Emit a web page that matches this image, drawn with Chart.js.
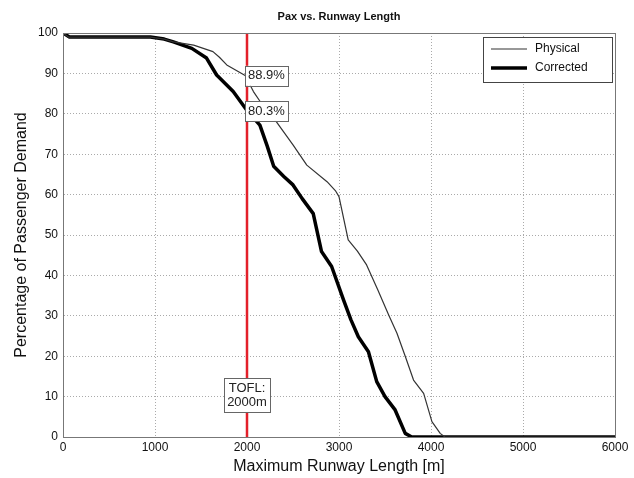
<!DOCTYPE html>
<html lang="en">
<head>
    <meta charset="UTF-8">
    <title>Pax vs. Runway Length</title>
    <style>
        body { margin: 0; padding: 0; background: #fff; }
        #wrap { width: 634px; height: 478px; }
    </style>
    <script src="https://cdn.jsdelivr.net/npm/chart.js"></script>
</head>
<body>
    <div id="wrap"><canvas id="paxChart" width="634" height="478"></canvas></div>

    <script>
        // runway length [m] and percentage of passenger demand
        const physicalX = [0, 60, 950, 1100, 1200, 1420, 1630, 1700, 1780, 1980, 2070, 2150, 2320, 2500, 2650, 2870, 2960, 3000, 3100, 3200, 3300, 3420, 3540, 3630, 3720, 3810, 3920, 4010, 4100, 4150, 6000];
        const physicalY = [100, 99, 99, 98.5, 97.8, 97, 95.4, 94, 92.1, 89.5, 85.5, 82.8, 78, 72.3, 67.3, 63.2, 61, 59.5, 48.8, 46, 42.6, 36.5, 30.2, 25.7, 20, 14.1, 10.8, 3.8, 0.9, 0, 0];
        const correctedX = [0, 70, 950, 1100, 1200, 1400, 1560, 1670, 1850, 2000, 2140, 2220, 2290, 2400, 2500, 2600, 2720, 2810, 2920, 3050, 3130, 3210, 3320, 3410, 3500, 3610, 3720, 3790, 6000];
        const correctedY = [100, 99, 99, 98.5, 97.8, 96.2, 93.8, 89.6, 85.5, 80.8, 77.2, 72, 67, 64.5, 62.4, 59, 55.3, 45.9, 42.2, 33.9, 29, 24.8, 21.1, 13.7, 10, 6.7, 0.9, 0, 0];
        const tofl = 2000;
        const seriesNames = ['Physical', 'Corrected'];
        // callouts: [x, y, text lines, anchor]
        const callouts = [
            [2000, 89.4, ['88.9%'], 'left'],
            [2000, 80.7, ['80.3%'], 'left'],
            [2000, 10.4, ['TOFL:', '2000m'], 'center']
        ];

        const toPts = (xs, ys) => xs.map((x, i) => ({ x: x, y: ys[i] }));
        const FONT = '"Liberation Sans", Arial, sans-serif';

        const decor = {
            id: 'decor',
            afterDraw(chart) {
                const ctx = chart.ctx;
                const a = chart.chartArea;
                const xs = chart.scales.x, ys = chart.scales.y;
                ctx.save();
                // plot frame
                ctx.strokeStyle = '#777';
                ctx.lineWidth = 1;
                ctx.strokeRect(a.left + 0.5, a.top + 0.5, a.right - a.left, a.bottom - a.top);
                // title
                ctx.fillStyle = '#111';
                ctx.font = 'bold 11px ' + FONT;
                ctx.textAlign = 'center';
                ctx.textBaseline = 'middle';
                ctx.fillText('Pax vs. Runway Length', (a.left + a.right) / 2, 17);

                // callout boxes
                ctx.font = '13px ' + FONT;
                callouts.forEach(([vx, vy, lines, align]) => {
                    const px = xs.getPixelForValue(vx);
                    const py = ys.getPixelForValue(vy);
                    const w = Math.max(...lines.map(t => ctx.measureText(t).width)) + 6;
                    const h = lines.length * 14 + 6;
                    const left = align === 'left' ? px - 2 : px - w / 2;
                    const top = py - h / 2;
                    ctx.fillStyle = '#fff';
                    ctx.fillRect(left, top, w, h);
                    ctx.strokeStyle = '#666';
                    ctx.lineWidth = 1;
                    ctx.strokeRect(Math.round(left) + 0.5, Math.round(top) + 0.5, Math.round(w), Math.round(h));
                    ctx.fillStyle = '#222';
                    ctx.textAlign = 'center';
                    lines.forEach((t, i) => {
                        ctx.fillText(t, left + w / 2, top + 10 + i * 14);
                    });
                });

                // legend
                const lx = 483, ly = 37, lw = 129, lh = 45;
                ctx.font = '12px ' + FONT;
                ctx.fillStyle = '#fff';
                ctx.fillRect(lx, ly, lw, lh);
                ctx.strokeStyle = '#444';
                ctx.lineWidth = 1;
                ctx.strokeRect(lx + 0.5, ly + 0.5, lw, lh);
                const widths = [1.2, 3.5];
                seriesNames.forEach((name, i) => {
                    const yy = ly + 12 + i * 19;
                    ctx.strokeStyle = i === 0 ? '#333' : '#000';
                    ctx.lineWidth = widths[i];
                    ctx.beginPath();
                    ctx.moveTo(lx + 8, yy);
                    ctx.lineTo(lx + 44, yy);
                    ctx.stroke();
                    ctx.fillStyle = '#111';
                    ctx.textAlign = 'left';
                    ctx.fillText(name, lx + 52, yy);
                });
                ctx.restore();
            }
        };

        new Chart(document.getElementById('paxChart'), {
            type: 'line',
            data: {
                datasets: [
                    {
                        label: seriesNames[0],
                        data: toPts(physicalX, physicalY),
                        borderColor: '#333',
                        borderWidth: 1.2,
                        borderJoinStyle: 'round',
                        pointRadius: 0,
                        tension: 0
                    },
                    {
                        label: seriesNames[1],
                        data: toPts(correctedX, correctedY),
                        borderColor: '#000',
                        borderWidth: 3.5,
                        borderJoinStyle: 'round',
                        pointRadius: 0,
                        tension: 0
                    },
                    {
                        label: 'TOFL',
                        data: [{ x: tofl, y: 0 }, { x: tofl, y: 100 }],
                        borderColor: '#e3202a',
                        borderWidth: 2.5,
                        pointRadius: 0
                    }
                ]
            },
            options: {
                responsive: false,
                animation: false,
                layout: { padding: { top: 33, right: 19, left: 0, bottom: 0 } },
                plugins: {
                    legend: { display: false },
                    tooltip: { enabled: false }
                },
                scales: {
                    x: {
                        type: 'linear',
                        min: 0,
                        max: 6000,
                        ticks: {
                            stepSize: 1000,
                            color: '#111',
                            font: { family: FONT, size: 12 },
                            padding: 3,
                            maxRotation: 0,
                            callback: v => String(v)
                        },
                        grid: { color: '#aaa', tickLength: 0, lineWidth: 1 },
                        border: { display: true, color: '#555', dash: [1, 2] },
                        title: {
                            display: true,
                            text: 'Maximum Runway Length [m]',
                            color: '#111',
                            font: { family: FONT, size: 16 },
                            padding: { top: 1, bottom: 2 }
                        },
                        afterFit(scale) { scale.height = 41; }
                    },
                    y: {
                        min: 0,
                        max: 100,
                        ticks: {
                            stepSize: 10,
                            color: '#111',
                            font: { family: FONT, size: 12 },
                            padding: 5
                        },
                        grid: { color: '#aaa', tickLength: 0, lineWidth: 1 },
                        border: { display: true, color: '#555', dash: [1, 2] },
                        title: {
                            display: true,
                            text: 'Percentage of Passenger Demand',
                            color: '#111',
                            font: { family: FONT, size: 16 },
                            padding: { top: 12, bottom: 0 }
                        },
                        afterFit(scale) { scale.width = 63; }
                    }
                }
            },
            plugins: [decor]
        });
    </script>
</body>
</html>
